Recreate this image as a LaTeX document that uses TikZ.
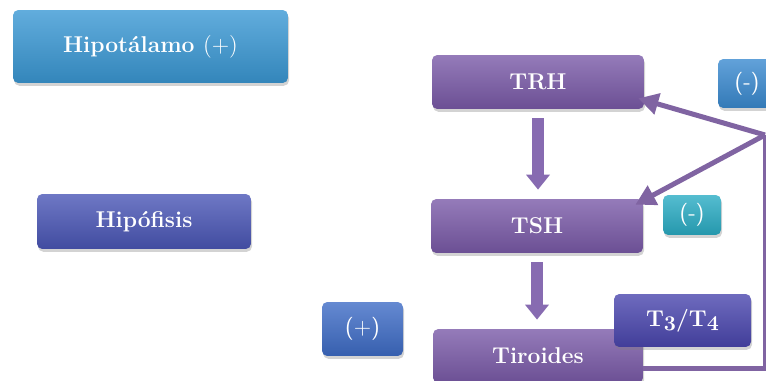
\documentclass[tikz,border=0pt]{standalone}
\usepackage{tikz}
\usetikzlibrary{arrows.meta,calc,shadows}
\definecolor{hypoblue}{HTML}{3A98D4}
\definecolor{lila}{HTML}{7A5AA8}
\definecolor{indigo}{HTML}{4A56B6}
\definecolor{tblue}{HTML}{4A46AE}
\definecolor{posblue}{HTML}{3E6CC6}
\definecolor{negblue}{HTML}{3A8AD0}
\definecolor{negcyan}{HTML}{2AACC4}
\definecolor{fbline}{HTML}{8064A2}
\newcommand\osf[1]{{\usefont{OML}{cmm}{b}{it}#1}}

\begin{document}
\begin{tikzpicture}[x=0.02cm,y=-0.02cm,
    box/.style={rectangle, rounded corners=3pt, inner sep=0pt, align=center,
      text=white, font=\fontsize{13}{15}\selectfont\bfseries,
      top color=#1!80!white, middle color=#1, bottom color=#1!88!black,
      drop shadow={shadow xshift=0.6pt, shadow yshift=-1.6pt, opacity=0.35}},
    sign/.style={box=#1, font=\fontsize{13}{15}\selectfont\sffamily},
    pump/.style={draw=lila!90!white, line width=0.24cm,
      -{Triangle[width=0.46cm,length=0.3cm]}, shorten <=0.18cm, shorten >=0.18cm},
    back/.style={draw=fbline, line width=0.1cm, line join=round}]

  \useasboundingbox (0,0) rectangle (766,381);

  % left column
  \node[box=hypoblue, minimum width=5.5cm, minimum height=1.46cm] (hypo) at (150.5,46.5) {Hipotálamo \textmd{(+)}};
  \node[box=indigo, minimum width=4.28cm, minimum height=1.1cm] (hipof) at (144,221.5) {Hipófisis};
  \node[sign=posblue, minimum width=1.62cm, minimum height=1.08cm] (pos) at (362.5,329) {(+)};

  % axis
  \node[box=lila, minimum width=4.24cm, minimum height=1.08cm] (trh) at (538,82) {TRH};
  \node[box=lila, minimum width=4.24cm, minimum height=1.08cm] (tsh) at (537,226) {TSH};
  \node[box=lila, minimum width=4.2cm, minimum height=1.08cm] (tiro) at (538,356) {Tiroides};
  \node[box=tblue, minimum width=2.74cm, minimum height=1.06cm] (hormon) at (682.5,320.5) {T\osf{3}/T\osf{4}};

  \node[sign=negblue, minimum width=1.16cm, minimum height=0.98cm] (neg1) at (747,83.5) {(-)};
  \node[sign=negcyan, minimum width=1.16cm, minimum height=0.8cm] (neg2) at (692,215) {(-)};

  \draw[pump] (trh.south) -- (trh.south |- tsh.north);
  \draw[pump] (tsh.south) -- (tsh.south |- tiro.north);

  % feedback loop
  \coordinate (bend) at (765,368);
  \coordinate (split) at (765,135);
  \draw[back] (tiro.east |- bend) -- (bend) -- (split);
  \draw[back, -{Triangle[width=0.42cm,length=0.4cm]}] (split) -- ($(trh.south east)+(-6,-11)$);
  \draw[back, -{Triangle[width=0.42cm,length=0.4cm]}] (split) -- ($(tsh.north east)+(-8,6)$);

\end{tikzpicture}
\end{document}
